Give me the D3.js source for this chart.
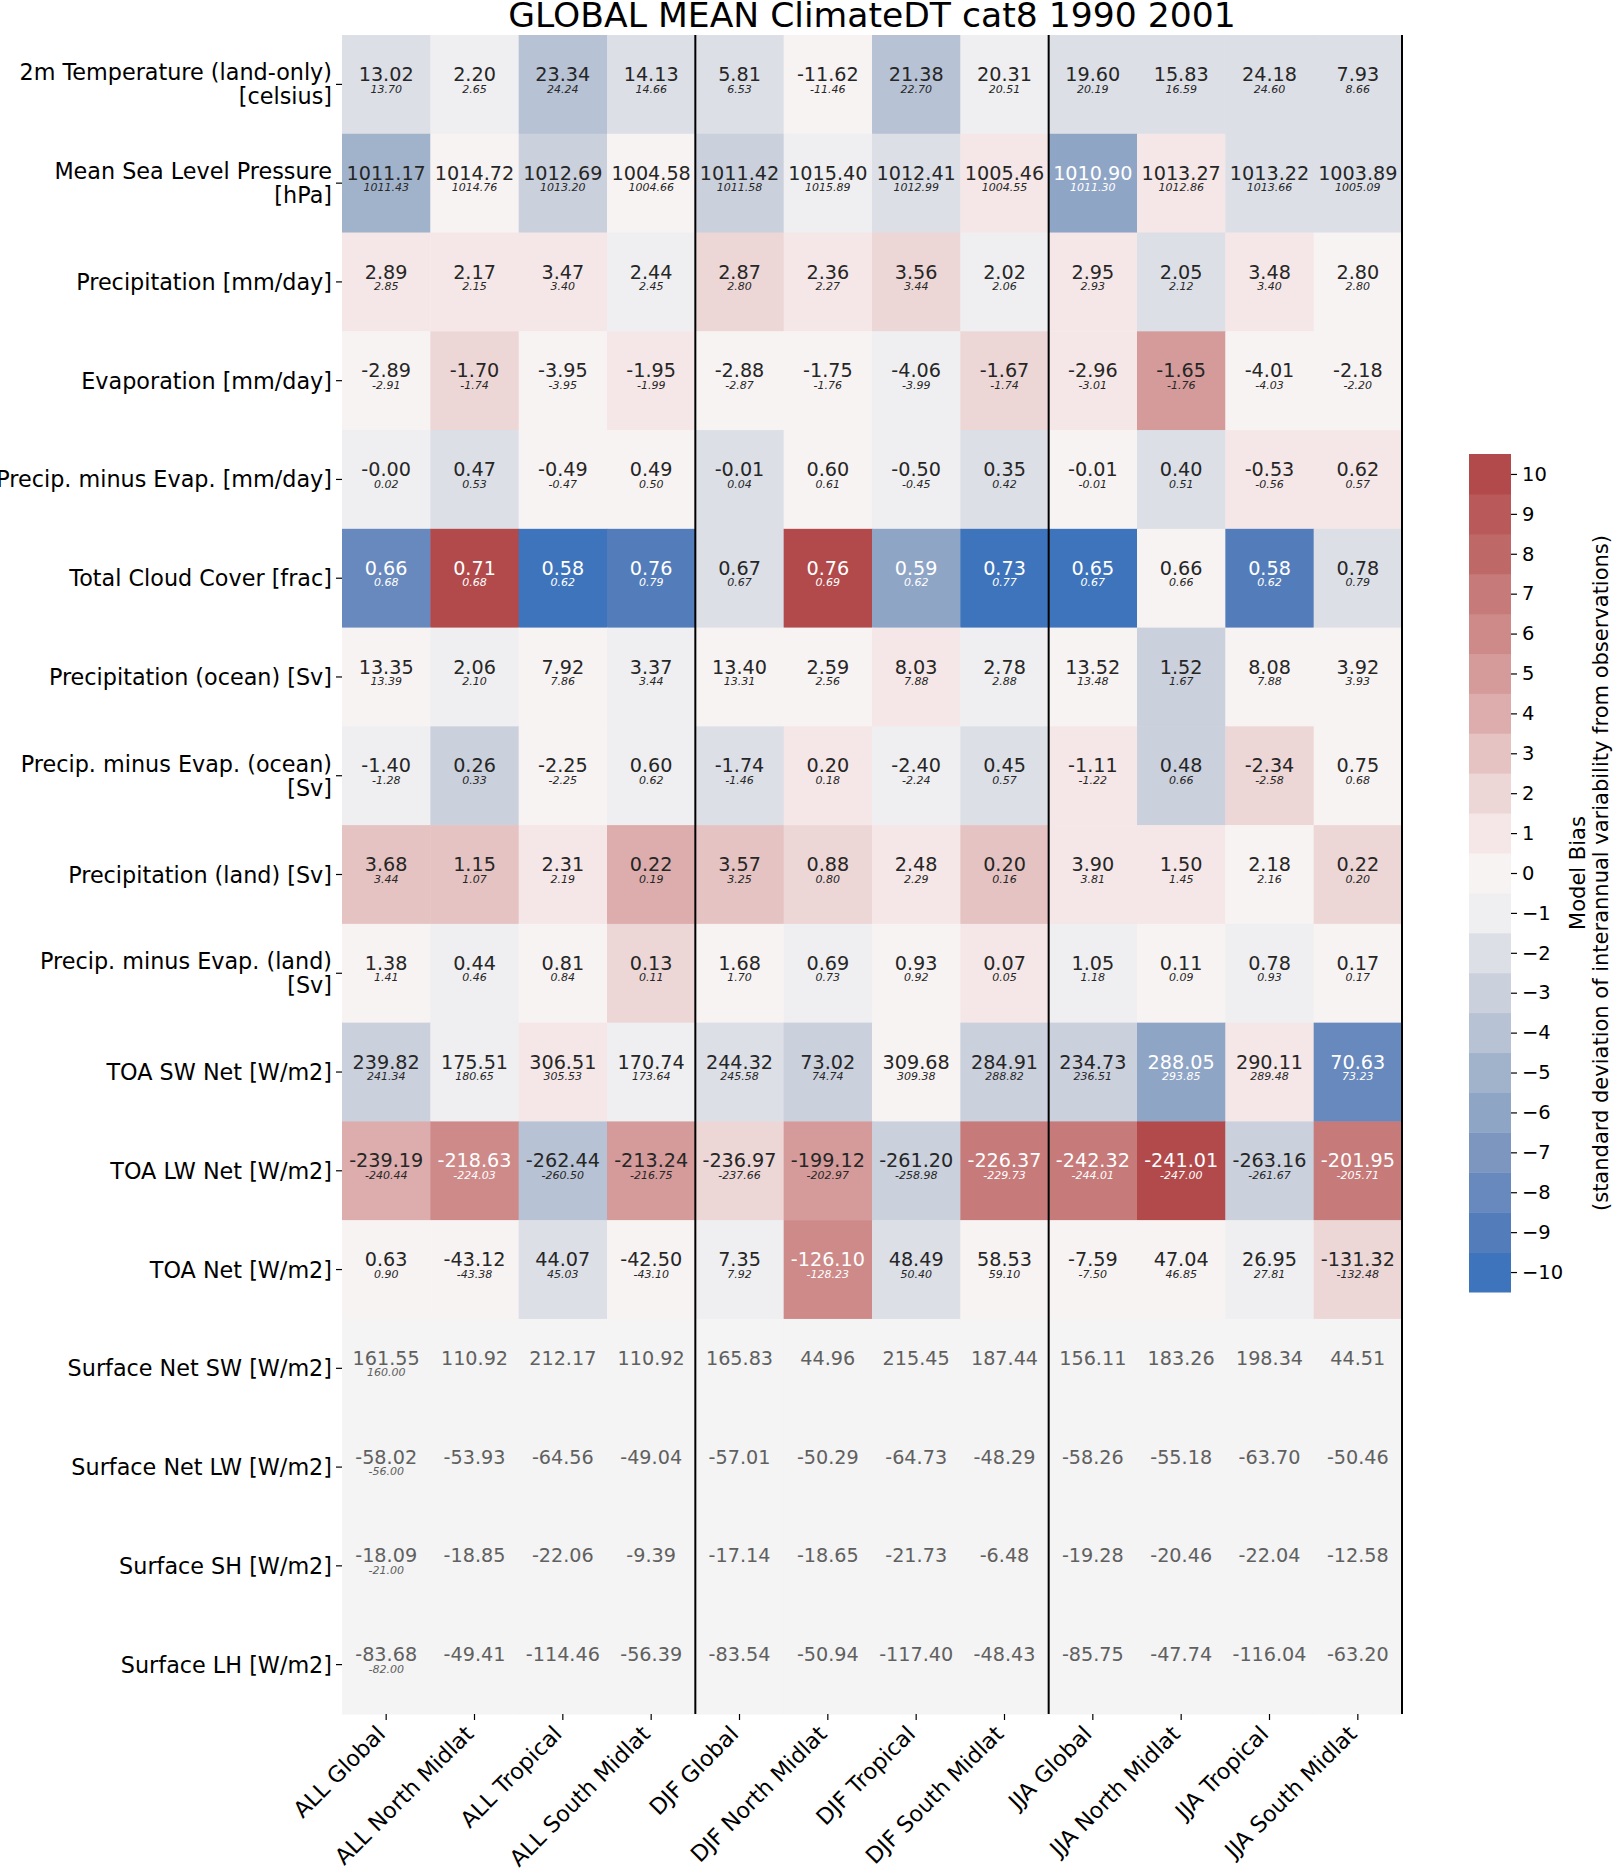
<!DOCTYPE html>
<html>
<head>
<meta charset="utf-8">
<script src="https://cdn.jsdelivr.net/npm/d3@7"></script>
<style>
  body { margin: 0; background: #fff; }
  text { font-family: "DejaVu Sans", sans-serif; }
</style>
</head>
<body>
<div id="chart"></div>
<script>
// ---- data ----
var rowLabels = [
  "2m Temperature (land-only)\n[celsius]",
  "Mean Sea Level Pressure\n[hPa]",
  "Precipitation [mm/day]",
  "Evaporation [mm/day]",
  "Precip. minus Evap. [mm/day]",
  "Total Cloud Cover [frac]",
  "Precipitation (ocean) [Sv]",
  "Precip. minus Evap. (ocean)\n[Sv]",
  "Precipitation (land) [Sv]",
  "Precip. minus Evap. (land)\n[Sv]",
  "TOA SW Net [W/m2]",
  "TOA LW Net [W/m2]",
  "TOA Net [W/m2]",
  "Surface Net SW [W/m2]",
  "Surface Net LW [W/m2]",
  "Surface SH [W/m2]",
  "Surface LH [W/m2]"
];

var colLabels = ["ALL Global", "ALL North Midlat", "ALL Tropical", "ALL South Midlat",
                 "DJF Global", "DJF North Midlat", "DJF Tropical", "DJF South Midlat",
                 "JJA Global", "JJA North Midlat", "JJA Tropical", "JJA South Midlat"];

// model values (big number in each cell)
var modelValues = [
  [13.02, 2.20, 23.34, 14.13, 5.81, -11.62, 21.38, 20.31, 19.60, 15.83, 24.18, 7.93],
  [1011.17, 1014.72, 1012.69, 1004.58, 1011.42, 1015.40, 1012.41, 1005.46, 1010.90, 1013.27, 1013.22, 1003.89],
  [2.89, 2.17, 3.47, 2.44, 2.87, 2.36, 3.56, 2.02, 2.95, 2.05, 3.48, 2.80],
  [-2.89, -1.70, -3.95, -1.95, -2.88, -1.75, -4.06, -1.67, -2.96, -1.65, -4.01, -2.18],
  [-0.004, 0.47, -0.49, 0.49, -0.01, 0.60, -0.50, 0.35, -0.01, 0.40, -0.53, 0.62],
  [0.66, 0.71, 0.58, 0.76, 0.67, 0.76, 0.59, 0.73, 0.65, 0.66, 0.58, 0.78],
  [13.35, 2.06, 7.92, 3.37, 13.40, 2.59, 8.03, 2.78, 13.52, 1.52, 8.08, 3.92],
  [-1.40, 0.26, -2.25, 0.60, -1.74, 0.20, -2.40, 0.45, -1.11, 0.48, -2.34, 0.75],
  [3.68, 1.15, 2.31, 0.22, 3.57, 0.88, 2.48, 0.20, 3.90, 1.50, 2.18, 0.22],
  [1.38, 0.44, 0.81, 0.13, 1.68, 0.69, 0.93, 0.07, 1.05, 0.11, 0.78, 0.17],
  [239.82, 175.51, 306.51, 170.74, 244.32, 73.02, 309.68, 284.91, 234.73, 288.05, 290.11, 70.63],
  [-239.19, -218.63, -262.44, -213.24, -236.97, -199.12, -261.20, -226.37, -242.32, -241.01, -263.16, -201.95],
  [0.63, -43.12, 44.07, -42.50, 7.35, -126.10, 48.49, 58.53, -7.59, 47.04, 26.95, -131.32],
  [161.55, 110.92, 212.17, 110.92, 165.83, 44.96, 215.45, 187.44, 156.11, 183.26, 198.34, 44.51],
  [-58.02, -53.93, -64.56, -49.04, -57.01, -50.29, -64.73, -48.29, -58.26, -55.18, -63.70, -50.46],
  [-18.09, -18.85, -22.06, -9.39, -17.14, -18.65, -21.73, -6.48, -19.28, -20.46, -22.04, -12.58],
  [-83.68, -49.41, -114.46, -56.39, -83.54, -50.94, -117.40, -48.43, -85.75, -47.74, -116.04, -63.20]
];

// observation values (small italic number)
var obsValues = [
  [13.70, 2.65, 24.24, 14.66, 6.53, -11.46, 22.70, 20.51, 20.19, 16.59, 24.60, 8.66],
  [1011.43, 1014.76, 1013.20, 1004.66, 1011.58, 1015.89, 1012.99, 1004.55, 1011.30, 1012.86, 1013.66, 1005.09],
  [2.85, 2.15, 3.40, 2.45, 2.80, 2.27, 3.44, 2.06, 2.93, 2.12, 3.40, 2.80],
  [-2.91, -1.74, -3.95, -1.99, -2.87, -1.76, -3.99, -1.74, -3.01, -1.76, -4.03, -2.20],
  [0.02, 0.53, -0.47, 0.50, 0.04, 0.61, -0.45, 0.42, -0.01, 0.51, -0.56, 0.57],
  [0.68, 0.68, 0.62, 0.79, 0.67, 0.69, 0.62, 0.77, 0.67, 0.66, 0.62, 0.79],
  [13.39, 2.10, 7.86, 3.44, 13.31, 2.56, 7.88, 2.88, 13.48, 1.67, 7.88, 3.93],
  [-1.28, 0.33, -2.25, 0.62, -1.46, 0.18, -2.24, 0.57, -1.22, 0.66, -2.58, 0.68],
  [3.44, 1.07, 2.19, 0.19, 3.25, 0.80, 2.29, 0.16, 3.81, 1.45, 2.16, 0.20],
  [1.41, 0.46, 0.84, 0.11, 1.70, 0.73, 0.92, 0.05, 1.18, 0.09, 0.93, 0.17],
  [241.34, 180.65, 305.53, 173.64, 245.58, 74.74, 309.38, 288.82, 236.51, 293.85, 289.48, 73.23],
  [-240.44, -224.03, -260.50, -216.75, -237.66, -202.97, -258.98, -229.73, -244.01, -247.00, -261.67, -205.71],
  [0.90, -43.38, 45.03, -43.10, 7.92, -128.23, 50.40, 59.10, -7.50, 46.85, 27.81, -132.48],
  [160.00, null, null, null, null, null, null, null, null, null, null, null],
  [-56.00, null, null, null, null, null, null, null, null, null, null, null],
  [-21.00, null, null, null, null, null, null, null, null, null, null, null],
  [-82.00, null, null, null, null, null, null, null, null, null, null, null]
];

// bias in std of interannual variability (colour), null = no obs variability
var biasStd = [
  [-2, -1, -4, -2, -2, 0, -4, -1, -2, -2, -2, -2],
  [-5, 0, -3, 0, -3, -1, -2, 1, -6, 1, -2, -2],
  [1, 1, 1, -1, 2, 1, 2, -1, 1, -2, 1, 0],
  [0, 2, 0, 1, 0, 0, -1, 2, 1, 5, 0, 0],
  [-1, -2, 0, 0, -2, 0, -1, -2, 0, -2, 1, 1],
  [-8, 10, -10, -9, -2, 10, -6, -10, -10, 0, -9, -2],
  [0, -1, 0, -1, 0, 0, 1, -1, 0, -3, 0, 0],
  [-1, -3, 0, -1, -2, 1, -1, -2, 1, -3, 2, 0],
  [3, 3, 1, 4, 3, 2, 1, 3, 1, 1, 0, 2],
  [0, -1, 0, 2, 0, -1, 0, 1, -1, 0, -1, 0],
  [-3, -1, 1, -1, -2, -3, 0, -3, -3, -6, 1, -8],
  [4, 6, -4, 5, 2, 5, -3, 7, 7, 10, -3, 7],
  [0, 0, -2, 0, -1, 6, -2, 0, 0, 0, -1, 2],
  [null, null, null, null, null, null, null, null, null, null, null, null],
  [null, null, null, null, null, null, null, null, null, null, null, null],
  [null, null, null, null, null, null, null, null, null, null, null, null],
  [null, null, null, null, null, null, null, null, null, null, null, null]
];

var cbarTicks = [-10, -9, -8, -7, -6, -5, -4, -3, -2, -1, 0, 1, 2, 3, 4, 5, 6, 7, 8, 9, 10];

// 21 discrete colours, -10 .. 10
var paletteColors = ["#3e74bb", "#537dba", "#6789bd", "#7d96c0", "#8fa5c6", "#a1b3cb", "#b7c2d4",
                     "#cbd0dd", "#dcdfe6", "#efeff1", "#f8f3f3", "#f5e7e7", "#edd6d6", "#e5c3c2",
                     "#dcadac", "#d49b9a", "#cd8a89", "#c67a79", "#bf6868", "#b9595a", "#b24a4b"];

var title = "GLOBAL MEAN ClimateDT cat8 1990 2001";

// ---- drawing ----
var W = 1614, H = 1868;
var hmLeft = 342, hmRight = 1402, hmTop = 35, hmBottom = 1714;

var svg = d3.select("#chart").append("svg").attr("width", W).attr("height", H);
svg.append("rect").attr("width", W).attr("height", H).attr("fill", "#fff");

var x = d3.scaleBand().domain(d3.range(colLabels.length)).range([hmLeft, hmRight]);
var y = d3.scaleBand().domain(d3.range(rowLabels.length)).range([hmTop, hmBottom]);
var color = d3.scaleQuantize().domain([-10.5, 10.5]).range(paletteColors);

// flatten cells
var cells = [];
rowLabels.forEach(function(r, i) {
  colLabels.forEach(function(c, j) {
    cells.push({ r: i, c: j, val: modelValues[i][j], obs: obsValues[i][j], bias: biasStd[i][j] });
  });
});

svg.selectAll(".cell")
  .data(cells)
  .enter().append("rect")
  .attr("class", "cell")
  .attr("x", function(d) { return x(d.c); })
  .attr("y", function(d) { return y(d.r); })
  .attr("width", x.bandwidth() + 0.5)
  .attr("height", y.bandwidth() + 0.5)
  .attr("fill", function(d) { return d.bias === null ? "#f4f4f4" : color(d.bias); });

function txtColor(d) {
  if (d.bias === null) return "#606060";
  return Math.abs(d.bias) >= 6 ? "#ffffff" : "#262626";
}

svg.selectAll(".val")
  .data(cells)
  .enter().append("text")
  .attr("class", "val")
  .attr("x", function(d) { return x(d.c) + x.bandwidth() / 2; })
  .attr("y", function(d) { return y(d.r) + 46; })
  .attr("text-anchor", "middle")
  .attr("font-size", "19.2px")
  .attr("fill", txtColor)
  .text(function(d) { return d.val.toFixed(2); });

svg.selectAll(".obs")
  .data(cells.filter(function(d) { return d.obs !== null; }))
  .enter().append("text")
  .attr("class", "obs")
  .attr("x", function(d) { return x(d.c) + x.bandwidth() / 2; })
  .attr("y", function(d) { return y(d.r) + 57.5; })
  .attr("text-anchor", "middle")
  .attr("font-size", "11px")
  .attr("font-style", "italic")
  .attr("fill", txtColor)
  .text(function(d) { return d.obs.toFixed(2); });

// season separators + right edge
[4, 8, 12].forEach(function(k) {
  var xx = k < colLabels.length ? x(k) : hmRight;
  svg.append("line")
    .attr("x1", xx).attr("x2", xx)
    .attr("y1", hmTop).attr("y2", hmBottom)
    .attr("stroke", "#000").attr("stroke-width", 2);
});

// y axis labels + ticks
var yl = svg.selectAll(".ylab")
  .data(rowLabels)
  .enter().append("g")
  .attr("class", "ylab");

yl.append("line")
  .attr("x1", hmLeft - 6).attr("x2", hmLeft)
  .attr("y1", function(d, i) { return y(i) + y.bandwidth() / 2; })
  .attr("y2", function(d, i) { return y(i) + y.bandwidth() / 2; })
  .attr("stroke", "#000").attr("stroke-width", 1.2);

yl.each(function(d, i) {
  var lines = d.split("\n");
  var cy = y(i) + y.bandwidth() / 2;
  var g = d3.select(this);
  lines.forEach(function(l, k) {
    var off = (k - (lines.length - 1) / 2) * 24;
    g.append("text")
      .attr("x", hmLeft - 10)
      .attr("y", cy + off)
      .attr("dy", "0.36em")
      .attr("text-anchor", "end")
      .attr("font-size", "22.3px")
      .attr("fill", "#000")
      .text(l);
  });
});

// x axis labels + ticks
var xl = svg.selectAll(".xlab")
  .data(colLabels)
  .enter().append("g")
  .attr("class", "xlab");

xl.append("line")
  .attr("x1", function(d, i) { return x(i) + x.bandwidth() / 2; })
  .attr("x2", function(d, i) { return x(i) + x.bandwidth() / 2; })
  .attr("y1", hmBottom).attr("y2", hmBottom + 6)
  .attr("stroke", "#000").attr("stroke-width", 1.2);

xl.append("text")
  .attr("transform", function(d, i) {
    return "translate(" + (x(i) + x.bandwidth() / 2 - 11) + "," + (hmBottom + 10) + ") rotate(-45)";
  })
  .attr("dy", "0.72em")
  .attr("text-anchor", "end")
  .attr("font-size", "22.3px")
  .attr("fill", "#000")
  .text(function(d) { return d; });

// title
svg.append("text")
  .attr("x", (hmLeft + hmRight) / 2)
  .attr("y", 27)
  .attr("text-anchor", "middle")
  .attr("font-size", "34.6px")
  .attr("fill", "#000")
  .text(title);

// colorbar
var cbX = 1469, cbW = 42;
var cbY = d3.scaleLinear().domain([-10.5, 10.5]).range([1292, 454]);

svg.selectAll(".cb")
  .data(cbarTicks)
  .enter().append("rect")
  .attr("class", "cb")
  .attr("x", cbX)
  .attr("y", function(d) { return cbY(d + 0.5); })
  .attr("width", cbW)
  .attr("height", function(d) { return cbY(d - 0.5) - cbY(d + 0.5) + 0.5; })
  .attr("fill", function(d) { return color(d); });

var cbAxis = svg.append("g")
  .attr("transform", "translate(" + (cbX + cbW) + ",0)")
  .call(d3.axisRight(cbY).tickValues(cbarTicks).tickSize(6).tickPadding(5)
    .tickFormat(function(d) { return d < 0 ? "\u2212" + Math.abs(d) : String(d); }));
cbAxis.select(".domain").remove();
cbAxis.selectAll("text").attr("font-size", "19.5px").attr("font-family", "DejaVu Sans").attr("fill", "#000");
cbAxis.selectAll("line").attr("stroke", "#000").attr("stroke-width", 1.2);

var cbMid = (cbY(-10.5) + cbY(10.5)) / 2;
svg.append("text")
  .attr("transform", "translate(1577," + cbMid + ") rotate(-90)")
  .attr("dy", "0.36em")
  .attr("text-anchor", "middle")
  .attr("font-size", "21px")
  .text("Model Bias");
svg.append("text")
  .attr("transform", "translate(1600," + cbMid + ") rotate(-90)")
  .attr("dy", "0.36em")
  .attr("text-anchor", "middle")
  .attr("font-size", "21px")
  .text("(standard deviation of interannual variability from observations)");
</script>
</body>
</html>
